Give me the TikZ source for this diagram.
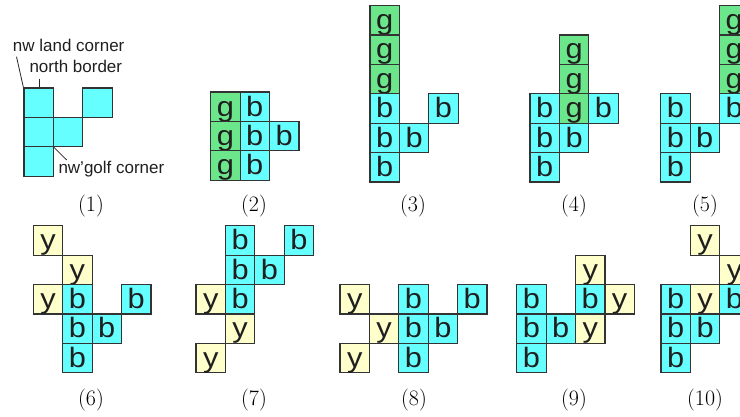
\documentclass[tikz,border=0pt]{standalone}
\usepackage{fontspec}
\newfontfamily\cellfam[FakeStretch=1.1]{Liberation Sans}
\newfontfamily\notefam{Liberation Sans}
\definecolor{cy}{RGB}{102,255,255}
\definecolor{gr}{RGB}{108,230,138}
\definecolor{ye}{RGB}{255,255,204}
\definecolor{edge}{RGB}{51,51,51}
\newcommand\cs{29.4}
\newcommand\sq[5]{\node[#4] (#1) at ({(#2+0.5)*\cs},{-(#3+0.5)*\cs}) {#5};}
\tikzset{
  x=1pt, y=1pt,
  cellbase/.style={draw=edge, line width=1.2pt, minimum size=29.4pt, inner sep=0pt,
    text height=21pt, text depth=2.4pt, font=\cellfam\fontsize{28}{30}\selectfont, text=black!88},
  cb/.style={cellbase, fill=cy},
  cg/.style={cellbase, fill=gr},
  cyl/.style={cellbase, fill=ye},
  lab/.style={anchor=base, inner sep=0pt, font=\fontsize{22}{26}\selectfont},
  note/.style={anchor=base west, inner sep=0pt, font=\notefam\fontsize{17}{19}\selectfont, text=black!88},
  pointer/.style={draw=black!85, line width=0.8pt}
}
\begin{document}
\begin{tikzpicture}
\useasboundingbox (0,0) rectangle (740,-416);
\clip (0,0) rectangle (740,-416);
% Figure 1
\begin{scope}[shift={(24,-88)}]
\sq{fa}{0}{0}{cb}{}
\sq{fb}{2}{0}{cb}{}
\sq{fc}{0}{1}{cb}{}
\sq{fd}{1}{1}{cb}{}
\sq{fe}{0}{2}{cb}{}
\end{scope}
\node[note] (nwl) at (12.7,-51.7) {nw land corner};
\node[note] (nb) at (29.3,-72.5) {north border};
\node[note] (nwg) at (58.3,-173) {nw’golf corner};
\coordinate (nwlend) at (16.5,-56.7);
\coordinate (nbend) at (39.3,-78.5);
\coordinate (nwgend) at (66.7,-160);
\draw[pointer] (nwlend) -- (fa.north west);
\draw[pointer] (nbend) -- (nbend |- fa.north);
\draw[pointer] (nwgend) -- (fc.south east);
% Figure 2
\begin{scope}[shift={(210.7,-92)}]
\sq{ga}{0}{0}{cg}{g}
\sq{gb}{0}{1}{cg}{g}
\sq{gc}{0}{2}{cg}{g}
\sq{gd}{1}{0}{cb}{b}
\sq{ge}{1}{1}{cb}{b}
\sq{gf}{1}{2}{cb}{b}
\sq{gg}{2}{1}{cb}{b}
\end{scope}
% Figure 3
\begin{scope}[shift={(370,-5.5)}]
\sq{ha}{0}{0}{cg}{g}
\sq{hb}{0}{1}{cg}{g}
\sq{hc}{0}{2}{cg}{g}
\sq{hd}{0}{3}{cb}{b}
\sq{he}{0}{4}{cb}{b}
\sq{hf}{0}{5}{cb}{b}
\sq{hg}{1}{4}{cb}{b}
\sq{hh}{2}{3}{cb}{b}
\end{scope}
% Figure 4
\begin{scope}[shift={(530,-5.5)}]
\sq{ia}{1}{1}{cg}{g}
\sq{ib}{1}{2}{cg}{g}
\sq{ic}{1}{3}{cg}{g}
\sq{id}{0}{3}{cb}{b}
\sq{ie}{0}{4}{cb}{b}
\sq{if}{0}{5}{cb}{b}
\sq{ig}{1}{4}{cb}{b}
\sq{ih}{2}{3}{cb}{b}
\end{scope}
% Figure 5
\begin{scope}[shift={(660.7,-5.5)}]
\sq{ja}{2}{0}{cg}{g}
\sq{jb}{2}{1}{cg}{g}
\sq{jc}{2}{2}{cg}{g}
\sq{jd}{0}{3}{cb}{b}
\sq{je}{0}{4}{cb}{b}
\sq{jf}{0}{5}{cb}{b}
\sq{jg}{1}{4}{cb}{b}
\sq{jh}{2}{3}{cb}{b}
\end{scope}
% Figure 6
\begin{scope}[shift={(33.3,-225.7)}]
\sq{ka}{0}{0}{cyl}{y}
\sq{kb}{1}{1}{cyl}{y}
\sq{kc}{0}{2}{cyl}{y}
\sq{kd}{1}{2}{cb}{b}
\sq{ke}{1}{3}{cb}{b}
\sq{kf}{1}{4}{cb}{b}
\sq{kg}{2}{3}{cb}{b}
\sq{kh}{3}{2}{cb}{b}
\end{scope}
% Figure 7
\begin{scope}[shift={(196,-225.7)}]
\sq{la}{0}{2}{cyl}{y}
\sq{lb}{1}{3}{cyl}{y}
\sq{lc}{0}{4}{cyl}{y}
\sq{ld}{1}{0}{cb}{b}
\sq{le}{1}{1}{cb}{b}
\sq{lf}{1}{2}{cb}{b}
\sq{lg}{2}{1}{cb}{b}
\sq{lh}{3}{0}{cb}{b}
\end{scope}
% Figure 8
\begin{scope}[shift={(340,-225.7)}]
\sq{ma}{0}{2}{cyl}{y}
\sq{mb}{1}{3}{cyl}{y}
\sq{mc}{0}{4}{cyl}{y}
\sq{md}{2}{2}{cb}{b}
\sq{me}{2}{3}{cb}{b}
\sq{mf}{2}{4}{cb}{b}
\sq{mg}{3}{3}{cb}{b}
\sq{mh}{4}{2}{cb}{b}
\end{scope}
% Figure 9
\begin{scope}[shift={(516.7,-225.7)}]
\sq{na}{0}{2}{cb}{b}
\sq{nb}{0}{3}{cb}{b}
\sq{nc}{0}{4}{cb}{b}
\sq{nd}{1}{3}{cb}{b}
\sq{ne}{2}{2}{cb}{b}
\sq{nf}{2}{1}{cyl}{y}
\sq{ng}{2}{3}{cyl}{y}
\sq{nh}{3}{2}{cyl}{y}
\end{scope}
% Figure 10
\begin{scope}[shift={(661,-225.7)}]
\sq{oa}{0}{2}{cb}{b}
\sq{ob}{0}{3}{cb}{b}
\sq{oc}{0}{4}{cb}{b}
\sq{od}{1}{3}{cb}{b}
\sq{oe}{2}{2}{cb}{b}
\sq{of}{1}{0}{cyl}{y}
\sq{og}{1}{2}{cyl}{y}
\sq{oh}{2}{1}{cyl}{y}
\end{scope}
% Labels
\node[lab] (l1) at (91,-211) {(1)};
\node[lab] (l2) at (254,-211) {(2)};
\node[lab] (l3) at (413,-211) {(3)};
\node[lab] (l4) at (574,-211) {(4)};
\node[lab] (l5) at (705,-211) {(5)};
\node[lab] (l6) at (91,-405.5) {(6)};
\node[lab] (l7) at (254,-405.5) {(7)};
\node[lab] (l8) at (414,-405.5) {(8)};
\node[lab] (l9) at (574,-405.5) {(9)};
\node[lab] (l10) at (705,-405.5) {(10)};
\end{tikzpicture}
\end{document}
